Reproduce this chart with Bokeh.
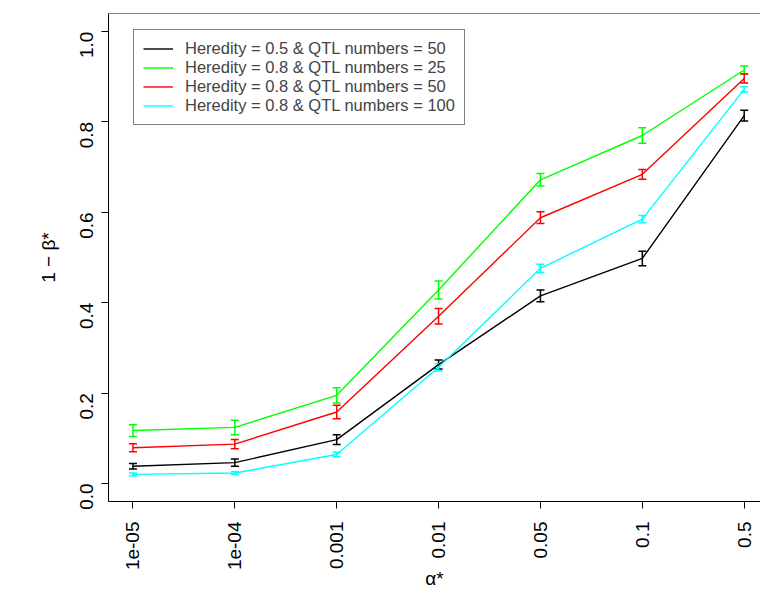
import math
from bokeh.plotting import figure
from bokeh.models import (Range1d, FixedTicker, ColumnDataSource, Whisker, Legend,
                          LegendItem, Span, TeeHead, PrintfTickFormatter)
from bokeh.embed import file_html
from bokeh.resources import INLINE

# ---- data ----
alpha_labels = ["1e-05", "1e-04", "0.001", "0.01", "0.05", "0.1", "0.5"]
y_ticks = [0.0, 0.2, 0.4, 0.6, 0.8, 1.0]
x_title = "\u03b1*"
y_title = "1 \u2212 \u03b2*"

series_names = [
    "Heredity = 0.5 & QTL numbers = 50",
    "Heredity = 0.8 & QTL numbers = 25",
    "Heredity = 0.8 & QTL numbers = 50",
    "Heredity = 0.8 & QTL numbers = 100",
]
series_colors = ["#000000", "#00FF00", "#FF0000", "#00FFFF"]

h05_q50_mean = [0.038, 0.046, 0.097, 0.263, 0.415, 0.498, 0.814]
h05_q50_err = [0.006, 0.008, 0.011, 0.010, 0.013, 0.016, 0.012]
h08_q25_mean = [0.117, 0.124, 0.195, 0.428, 0.672, 0.770, 0.915]
h08_q25_err = [0.013, 0.016, 0.017, 0.020, 0.014, 0.017, 0.009]
h08_q50_mean = [0.079, 0.087, 0.158, 0.370, 0.588, 0.684, 0.896]
h08_q50_err = [0.009, 0.010, 0.015, 0.017, 0.013, 0.011, 0.010]
h08_q100_mean = [0.020, 0.023, 0.064, 0.257, 0.476, 0.585, 0.872]
h08_q100_err = [0.003, 0.003, 0.005, 0.008, 0.009, 0.008, 0.006]

means = [h05_q50_mean, h08_q25_mean, h08_q50_mean, h08_q100_mean]
errs = [h05_q50_err, h08_q25_err, h08_q50_err, h08_q100_err]

FONT = "Liberation Sans"
x_pos = list(range(1, len(alpha_labels) + 1))

p = figure(width=760, height=592, output_backend="svg", toolbar_location=None,
           x_range=Range1d(0.76, 7.16), y_range=Range1d(-0.04, 1.04),
           min_border_left=108, min_border_right=0, min_border_top=13,
           min_border_bottom=91)
p.outline_line_color = None
p.grid.visible = False
p.background_fill_color = "white"
p.border_fill_color = "white"

# top border of the box
p.add_layout(Span(location=1.04, dimension="width", line_color="black", line_width=1))

renderers = []
for name, col, m, e in zip(series_names, series_colors, means, errs):
    src = ColumnDataSource(dict(
        x=x_pos, y=m,
        lower=[a - b for a, b in zip(m, e)],
        upper=[a + b for a, b in zip(m, e)],
    ))
    r = p.line("x", "y", source=src, line_color=col, line_width=1.4)
    renderers.append(r)
    w = Whisker(base="x", lower="lower", upper="upper", source=src,
                line_color=col, line_width=1.5,
                upper_head=TeeHead(size=8, line_color=col, line_width=1.5),
                lower_head=TeeHead(size=8, line_color=col, line_width=1.5))
    p.add_layout(w)

# axes
p.xaxis.ticker = FixedTicker(ticks=x_pos)
p.xaxis.major_label_overrides = {i: lab for i, lab in zip(x_pos, alpha_labels)}
p.xaxis.major_label_orientation = math.pi / 2
p.yaxis.ticker = FixedTicker(ticks=y_ticks)
p.yaxis.formatter = PrintfTickFormatter(format="%.1f")
p.yaxis.major_label_orientation = math.pi / 2

for ax in (p.xaxis[0], p.yaxis[0]):
    ax.minor_tick_line_color = None
    ax.major_tick_in = 0
    ax.major_tick_out = 7
    ax.axis_line_color = "black"
    ax.major_tick_line_color = "black"
    ax.major_label_text_font = FONT
    ax.major_label_text_font_size = "19px"
    ax.major_label_text_color = "black"
    ax.axis_label_text_font = FONT
    ax.axis_label_text_font_size = "19px"
    ax.axis_label_text_font_style = "normal"
    ax.axis_label_text_color = "black"

p.xaxis.major_label_standoff = 13
p.yaxis.major_label_standoff = 15
p.xaxis.axis_label = x_title
p.yaxis.axis_label = y_title
p.xaxis.axis_label_standoff = -5
p.yaxis.axis_label_standoff = 12

legend = Legend(
    items=[LegendItem(label=n, renderers=[r]) for n, r in zip(series_names, renderers)],
    location=(25, 376),
    border_line_color="black", border_line_width=1,
    background_fill_color="white", background_fill_alpha=1.0,
    label_text_font=FONT, label_text_font_size="16.5px",
    glyph_width=30, glyph_height=19, label_height=19,
    label_standoff=12, padding=9, spacing=0, margin=0,
)
p.add_layout(legend)

open("out.html", "w").write(file_html(p, INLINE))
